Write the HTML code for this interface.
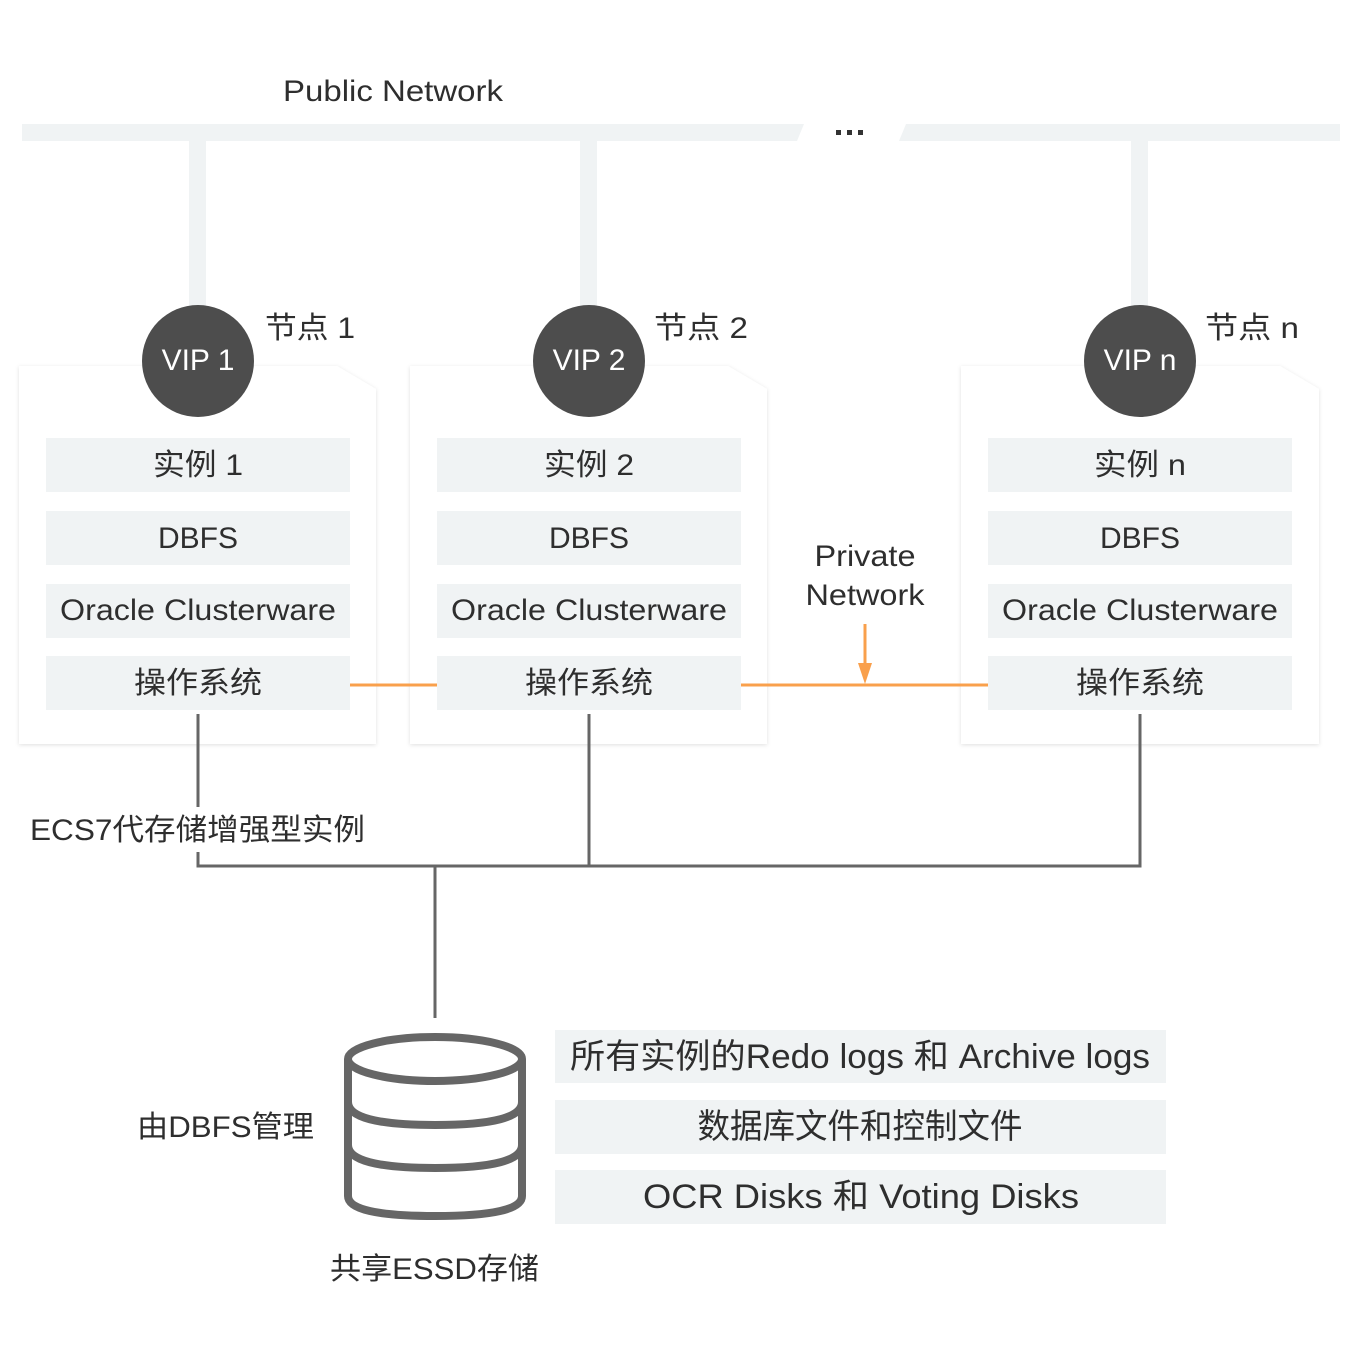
<!DOCTYPE html>
<html><head><meta charset="utf-8"><style>
html,body{margin:0;padding:0;background:#fff;}
svg{display:block;}
text{font-family:"Liberation Sans","Noto Sans CJK SC",sans-serif;fill:#2e2e2e;}
</style></head><body>
<svg width="1360" height="1361" viewBox="0 0 1360 1361" xmlns="http://www.w3.org/2000/svg">
<defs>
<filter id="sh" x="-10%" y="-10%" width="120%" height="120%"><feDropShadow dx="0" dy="1" stdDeviation="2" flood-color="#000" flood-opacity="0.12"/></filter>
</defs>
<rect width="1360" height="1361" fill="#fff"/>
<text x="393" y="101" font-size="30" text-anchor="middle" textLength="220" lengthAdjust="spacingAndGlyphs">Public Network</text>
<polygon points="22,124 804,124 797,141 22,141" fill="#f0f3f4"/>
<polygon points="906,124 1340,124 1340,141 899,141" fill="#f0f3f4"/>
<rect x="836" y="130" width="5" height="5" fill="#333"/><rect x="847" y="130" width="5" height="5" fill="#333"/><rect x="858" y="130" width="5" height="5" fill="#333"/>
<rect x="189" y="141" width="17" height="170" fill="#f0f3f4"/>
<rect x="580" y="141" width="17" height="170" fill="#f0f3f4"/>
<rect x="1131" y="141" width="17" height="170" fill="#f0f3f4"/>

<g filter="url(#sh)">
<polygon points="19,366 337,366 376,389 376,744 19,744" fill="#fff"/>
<polygon points="410,366 728,366 767,389 767,744 410,744" fill="#fff"/>
<polygon points="961,366 1280,366 1319,389 1319,744 961,744" fill="#fff"/>
</g>

<g fill="#f0f3f4">
<rect x="46" y="438" width="304" height="54"/><rect x="46" y="511" width="304" height="54"/><rect x="46" y="584" width="304" height="54"/><rect x="46" y="656" width="304" height="54"/>
<rect x="437" y="438" width="304" height="54"/><rect x="437" y="511" width="304" height="54"/><rect x="437" y="584" width="304" height="54"/><rect x="437" y="656" width="304" height="54"/>
<rect x="988" y="438" width="304" height="54"/><rect x="988" y="511" width="304" height="54"/><rect x="988" y="584" width="304" height="54"/><rect x="988" y="656" width="304" height="54"/>
</g>
<g font-size="30" text-anchor="middle">
<text x="198" y="475" textLength="90" lengthAdjust="spacingAndGlyphs">实例 1</text><text x="198" y="548">DBFS</text><text x="198" y="620" textLength="276" lengthAdjust="spacingAndGlyphs">Oracle Clusterware</text><text x="198" y="693" textLength="128" lengthAdjust="spacingAndGlyphs">操作系统</text>
<text x="589" y="475" textLength="90" lengthAdjust="spacingAndGlyphs">实例 2</text><text x="589" y="548">DBFS</text><text x="589" y="620" textLength="276" lengthAdjust="spacingAndGlyphs">Oracle Clusterware</text><text x="589" y="693" textLength="128" lengthAdjust="spacingAndGlyphs">操作系统</text>
<text x="1140" y="475" textLength="92" lengthAdjust="spacingAndGlyphs">实例 n</text><text x="1140" y="548">DBFS</text><text x="1140" y="620" textLength="276" lengthAdjust="spacingAndGlyphs">Oracle Clusterware</text><text x="1140" y="693" textLength="128" lengthAdjust="spacingAndGlyphs">操作系统</text>
</g>

<circle cx="198" cy="361" r="56" fill="#4d4d4d"/>
<circle cx="589" cy="361" r="56" fill="#4d4d4d"/>
<circle cx="1140" cy="361" r="56" fill="#4d4d4d"/>
<g font-size="30" text-anchor="middle">
<text x="198" y="370" style="fill:#fff">VIP 1</text>
<text x="589" y="370" style="fill:#fff">VIP 2</text>
<text x="1140" y="370" style="fill:#fff">VIP n</text>
</g>
<g font-size="30">
<text x="265" y="338" textLength="90" lengthAdjust="spacingAndGlyphs">节点 1</text>
<text x="654" y="338" textLength="94" lengthAdjust="spacingAndGlyphs">节点 2</text>
<text x="1205" y="338" textLength="94" lengthAdjust="spacingAndGlyphs">节点 n</text>
</g>

<g fill="none" stroke="#f9a04c" stroke-width="3">
<line x1="350" y1="685" x2="437" y2="685"/>
<line x1="741" y1="685" x2="988" y2="685"/>
<line x1="865" y1="624" x2="865" y2="665"/>
</g>
<polygon points="858,663 872,663 865,684" fill="#f9a04c"/>
<text x="865" y="566" font-size="30" text-anchor="middle" textLength="101" lengthAdjust="spacingAndGlyphs">Private</text>
<text x="865" y="605" font-size="30" text-anchor="middle" textLength="119" lengthAdjust="spacingAndGlyphs">Network</text>

<g fill="none" stroke="#666" stroke-width="3">
<line x1="198" y1="714" x2="198" y2="807"/>
<polyline points="198,852 198,866 1140,866 1140,714"/>
<line x1="589" y1="714" x2="589" y2="866"/>
<line x1="435" y1="866" x2="435" y2="1018"/>
</g>
<text x="30" y="840" font-size="30" textLength="335" lengthAdjust="spacingAndGlyphs">ECS7代存储增强型实例</text>

<g fill="none" stroke="#666" stroke-width="8">
<ellipse cx="435" cy="1059" rx="87" ry="22"/>
<path d="M348,1059 V1196 Q348,1216 435,1216 Q522,1216 522,1196 V1059"/>
<path d="M348,1102 Q348,1125 435,1125 Q522,1125 522,1102"/>
<path d="M348,1145 Q348,1168 435,1168 Q522,1168 522,1145"/>
</g>
<text x="137" y="1137" font-size="30" textLength="177" lengthAdjust="spacingAndGlyphs">由DBFS管理</text>
<text x="330" y="1279" font-size="30" textLength="209" lengthAdjust="spacingAndGlyphs">共享ESSD存储</text>

<g fill="#f0f3f4">
<rect x="555" y="1030" width="611" height="53"/>
<rect x="555" y="1100" width="611" height="54"/>
<rect x="555" y="1170" width="611" height="54"/>
</g>
<g font-size="34" text-anchor="middle">
<text x="860" y="1068" textLength="580" lengthAdjust="spacingAndGlyphs">所有实例的Redo logs 和 Archive logs</text>
<text x="860" y="1138" textLength="325" lengthAdjust="spacingAndGlyphs">数据库文件和控制文件</text>
<text x="861" y="1208" textLength="436" lengthAdjust="spacingAndGlyphs">OCR Disks 和 Voting Disks</text>
</g>
</svg>
</body></html>
